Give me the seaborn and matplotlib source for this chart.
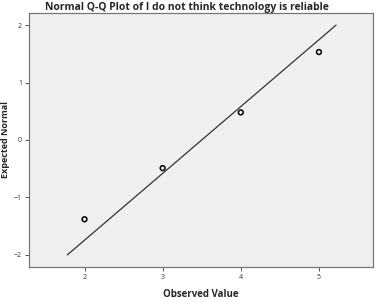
import numpy as np
import pandas as pd
import seaborn as sns
import matplotlib
matplotlib.use("Agg")
import matplotlib.pyplot as plt

# Datos
observed = [2, 3, 4, 5]
expected = [-1.38, -0.49, 0.48, 1.53]
line_x = [1.78, 5.22]
mean_obs = 3.5
sd_obs = 0.86

df = pd.DataFrame({"Observed Value": observed, "Expected Normal": expected})
linea = pd.DataFrame({"x": line_x})
linea["y"] = (linea["x"] - mean_obs) / sd_obs

sns.set_style("white")
plt.rcParams["font.family"] = ["Open Sans", "DejaVu Sans"]

fig = plt.figure(figsize=(3.77, 3.02), dpi=100)
ax = fig.add_axes([0.077, 0.116, 0.912, 0.841])
ax.set_facecolor("#f0f0f0")

sns.lineplot(data=linea, x="x", y="y", color="#333333", linewidth=0.9, ax=ax)
sns.scatterplot(data=df, x="Observed Value", y="Expected Normal", marker="o",
                s=12, facecolor="none", edgecolor="black", linewidth=1.1, ax=ax)

ax.set_xlim(1.29, 5.69)
ax.set_ylim(-2.21, 2.21)
ax.set_xticks([2, 3, 4, 5])
ax.set_yticks([-2, -1, 0, 1, 2])
ax.set_yticklabels(["\u22122", "\u22121", "0", "1", "2"])
ax.tick_params(axis="both", direction="out", length=3, width=0.7, labelsize=5,
               pad=2, colors="#555555", labelcolor="#333333")
ax.tick_params(left=True, bottom=True)

for s in ax.spines.values():
    s.set_color("#777777")
    s.set_linewidth(0.9)

ax.set_xlabel("Observed Value", fontsize=7, fontweight="bold")
ax.set_ylabel("Expected Normal", fontsize=6.5, fontweight="bold")
ax.xaxis.set_label_coords(0.5, -0.087)
ax.yaxis.set_label_coords(-0.055, 0.5)

fig.suptitle("Normal Q-Q Plot of I do not think technology is reliable",
             x=0.495, y=0.995, fontsize=7.5, fontweight="bold")

plt.savefig("out.png", dpi=100)
